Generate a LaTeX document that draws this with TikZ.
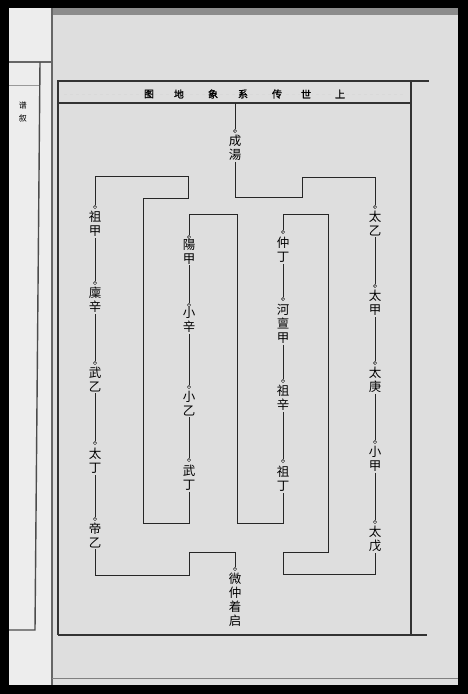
\documentclass[tikz,border=0pt]{standalone}
\usepackage{fontspec}
\newfontfamily\cjk{Noto Sans CJK SC}
\newfontfamily\cjkfett{Noto Sans CJK SC}[FakeBold=1.2]
\usetikzlibrary{positioning}
\definecolor{papier}{gray}{0.87}
\definecolor{blatt}{gray}{0.93}
\definecolor{kante}{gray}{0.55}

\begin{document}
\begin{tikzpicture}[x=1pt,y=-1pt,
      person/.style={font=\cjk\fontsize{12.5}{14}\selectfont, align=center, inner sep=1pt, anchor=north},
      titel/.style={font=\cjkfett\fontsize{10}{10}\selectfont, inner sep=1pt},
      knot/.style={circle, draw=black, fill=white, line width=0.5pt, inner sep=0pt, minimum size=3.2pt},
      linie/.style={draw=black!85, line width=0.8pt},
      rahmen/.style={draw=black!80, line width=1.8pt}]

\useasboundingbox (0,0) rectangle (468,694);
\fill[black] (0,0) rectangle (468,694);
\fill[blatt] (9,8) rectangle (52,685);
\fill[papier] (52,8) rectangle (458,685);
\fill[kante] (52,8) rectangle (458,15);
\draw[black!60, line width=1.2pt] (52,8) -- (52,685);
\draw[black!50, line width=0.8pt] (52,678) -- (458,678);
\draw[black!60, line width=1.4pt] (9,62) -- (52,62);
\draw[black!40, line width=0.6pt] (9,85) -- (40,85);
\draw[black!70, line width=1.4pt] (40,62) -- (35,630) -- (9,630);
\node[titel, font=\cjk\fontsize{8}{8}\selectfont] (seite1) at (23,105) {谱};
\node[titel, font=\cjk\fontsize{8}{8}\selectfont] (seite2) at (23,118) {叙};

\draw[rahmen] (57,81) -- (429,81);
\draw[rahmen] (58,81) -- (58,635);
\draw[rahmen] (411,81) -- (411,636);
\draw[rahmen] (58,635) -- (427,635);
\draw[black!80, line width=1.2pt] (58,103) -- (411,103);
\draw[black!15, line width=0.5pt, dashed] (64,94) -- (405,94);
\node[titel, fill=papier] (t1) at (340,94) {上};
\node[titel, fill=papier] (t2) at (306,94) {世};
\node[titel, fill=papier] (t3) at (277,94) {传};
\node[titel, fill=papier] (t4) at (243,94) {系};
\node[titel, fill=papier] (t5) at (213,94) {象};
\node[titel, fill=papier] (t6) at (179,94) {地};
\node[titel, fill=papier] (t7) at (149,94) {图};
\coordinate (band) at (235,103);

\node[knot] (d-tang) at (235,131) {};
\node[person] (tang) at (235,134) {成\\湯};

\node[knot] (d-taiyi) at (375,207) {};
\node[person] (taiyi) at (375,210) {太\\乙};
\node[knot] (d-taijia) at (375,286) {};
\node[person] (taijia) at (375,289) {太\\甲};
\node[knot] (d-taigeng) at (375,363) {};
\node[person] (taigeng) at (375,366) {太\\庚};
\node[knot] (d-xiaojia) at (375,442) {};
\node[person] (xiaojia) at (375,445) {小\\甲};
\node[knot] (d-taiwu) at (375,522) {};
\node[person] (taiwu) at (375,525) {太\\戊};

\node[knot] (d-zhongding) at (283,232) {};
\node[person] (zhongding) at (283,236) {仲\\丁};
\node[knot] (d-hedanjia) at (283,299) {};
\node[person] (hedanjia) at (283,303) {河\\亶\\甲};
\node[knot] (d-zuxin) at (283,381) {};
\node[person] (zuxin) at (283,384) {祖\\辛};
\node[knot] (d-zuding) at (283,461) {};
\node[person] (zuding) at (283,465) {祖\\丁};

\node[knot] (d-yangjia) at (189,237) {};
\node[person] (yangjia) at (189,238) {陽\\甲};
\node[knot] (d-xiaoxin) at (189,305) {};
\node[person] (xiaoxin) at (189,306) {小\\辛};
\node[knot] (d-xiaoyi) at (189,387) {};
\node[person] (xiaoyi) at (189,390) {小\\乙};
\node[knot] (d-wuding) at (189,460) {};
\node[person] (wuding) at (189,464) {武\\丁};

\node[knot] (d-zujia) at (95,207) {};
\node[person] (zujia) at (95,210) {祖\\甲};
\node[knot] (d-linxin) at (95,283) {};
\node[person] (linxin) at (95,286) {廩\\辛};
\node[knot] (d-wuyi) at (95,363) {};
\node[person] (wuyi) at (95,366) {武\\乙};
\node[knot] (d-taiding) at (95,443) {};
\node[person] (taiding) at (95,447) {太\\丁};
\node[knot] (d-diyi) at (95,519) {};
\node[person] (diyi) at (95,522) {帝\\乙};

\node[knot] (d-weizhong) at (235,569) {};
\node[person] (weizhong) at (235,572) {微\\仲\\着\\启};

\draw[linie] (band) -- (d-tang);
\draw[linie] (tang) |- (302,197) |- (375,177) -- (d-taiyi);
\draw[linie] (taiyi) -- (d-taijia);
\draw[linie] (taijia) -- (d-taigeng);
\draw[linie] (taigeng) -- (d-xiaojia);
\draw[linie] (xiaojia) -- (d-taiwu);
\draw[linie] (taiwu) |- (283,574) |- (328,552) |- (283,214) -- (d-zhongding);
\draw[linie] (zhongding) -- (d-hedanjia);
\draw[linie] (hedanjia) -- (d-zuxin);
\draw[linie] (zuxin) -- (d-zuding);
\draw[linie] (zuding) |- (237,523) |- (189,214) -- (d-yangjia);
\draw[linie] (yangjia) -- (d-xiaoxin);
\draw[linie] (xiaoxin) -- (d-xiaoyi);
\draw[linie] (xiaoyi) -- (d-wuding);
\draw[linie] (wuding) |- (143,523) |- (188,198) |- (95,176) -- (d-zujia);
\draw[linie] (zujia) -- (d-linxin);
\draw[linie] (linxin) -- (d-wuyi);
\draw[linie] (wuyi) -- (d-taiding);
\draw[linie] (taiding) -- (d-diyi);
\draw[linie] (diyi) |- (189,575) |- (235,552) -- (d-weizhong);

\end{tikzpicture}
\end{document}
